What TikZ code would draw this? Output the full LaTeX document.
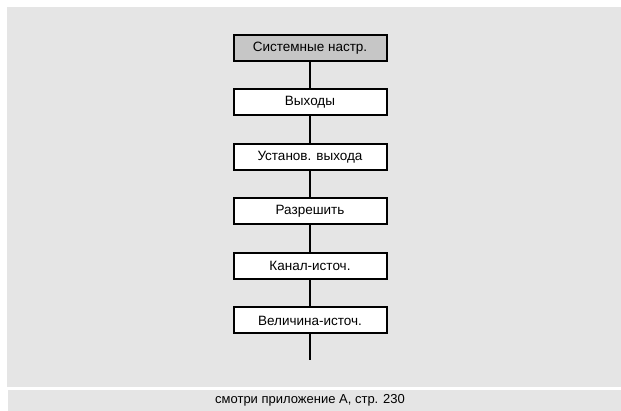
\documentclass[tikz,border=0pt]{standalone}
\usepackage{fontspec}
\setmainfont{Liberation Sans}
\begin{document}
\begin{tikzpicture}[x=1pt,y=-1pt,
  menubox/.style={draw=black,line width=2pt,fill=white,minimum width=153pt,minimum height=26pt,inner sep=0pt,font=\fontsize{13.5}{15}\selectfont},
  link/.style={line width=2pt}]
\useasboundingbox (0,0) rectangle (621,411);
\fill[white] (0,0) rectangle (621,411);
\fill[gray!20] (7,7) rectangle (621,387);
\fill[gray!20] (8,390) rectangle (621,411);
\node[menubox,fill=gray!45] (b1) at (310,48) {Системные настр.};
\node[menubox] (b2) at (310,102.5) {Выходы};
\node[menubox] (b3) at (310,157) {Установ. выхода};
\node[menubox] (b4) at (310,211.5) {Разрешить};
\node[menubox] (b5) at (310,266) {Канал-источ.};
\node[menubox] (b6) at (310,320.5) {Величина-источ.};
\coordinate (end) at (310,360);
\draw[link] (b1) -- (b2);
\draw[link] (b2) -- (b3);
\draw[link] (b3) -- (b4);
\draw[link] (b4) -- (b5);
\draw[link] (b5) -- (b6);
\draw[link] (b6.south) -- (end);
\node[font=\fontsize{13}{15}\selectfont] (foot) at (310,400) {смотри приложение А, стр. 230};
\end{tikzpicture}
\end{document}
